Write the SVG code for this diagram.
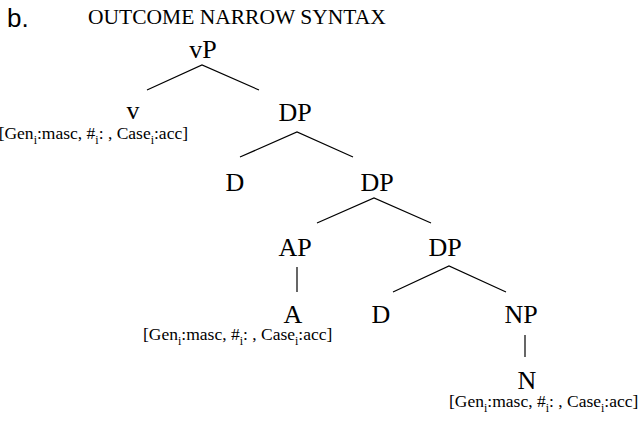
<svg xmlns="http://www.w3.org/2000/svg" width="640" height="421" viewBox="0 0 640 421">
<style>
.lbl{font-family:"Liberation Serif","Times New Roman",serif;font-size:26px;fill:#000;text-anchor:middle}
.ft{font-family:"Liberation Serif","Times New Roman",serif;font-size:17.5px;fill:#000}
.sub{font-size:12px}
.ttl{font-family:"Liberation Serif","Times New Roman",serif;font-size:21.5px;fill:#000}
.edge{stroke:#000;stroke-width:1.2;fill:none}
</style>
<rect width="640" height="421" fill="#fff"/>
<text x="7" y="27" font-family="Liberation Sans, Arial, sans-serif" font-size="26">b.</text>
<text class="ttl" x="88" y="24">OUTCOME NARROW SYNTAX</text>
<g id="connectors">
<path class="edge" d="M147 90 L202 65 L259 90"/>
<path class="edge" d="M240 157 L297 132 L353 157"/>
<path class="edge" d="M317 223 L374 198 L431 223"/>
<path class="edge" d="M297 267 L297 292"/>
<path class="edge" d="M393 292 L449 266 L506 292"/>
<path class="edge" d="M525 335 L525 357"/>
</g>
<g id="vP"><text class="lbl" x="203" y="58">vP</text></g>
<g id="v"><text class="lbl" x="133" y="119">v</text>
<text class="ft" x="188" y="139" text-anchor="end">[Gen<tspan class="sub" dy="5">i</tspan><tspan dy="-5">:masc, #</tspan><tspan class="sub" dy="5">i</tspan><tspan dy="-5">: , Case</tspan><tspan class="sub" dy="5">i</tspan><tspan dy="-5">:acc]</tspan></text></g>
<g id="DP1"><text class="lbl" x="295" y="121">DP</text></g>
<g id="D1"><text class="lbl" x="235" y="191">D</text></g>
<g id="DP2"><text class="lbl" x="377" y="191">DP</text></g>
<g id="AP"><text class="lbl" x="295" y="256">AP</text></g>
<g id="DP3"><text class="lbl" x="445" y="256">DP</text></g>
<g id="A"><text class="lbl" x="293" y="323">A</text>
<text class="ft" x="143" y="340">[Gen<tspan class="sub" dy="5">i</tspan><tspan dy="-5">:masc, #</tspan><tspan class="sub" dy="5">i</tspan><tspan dy="-5">: , Case</tspan><tspan class="sub" dy="5">i</tspan><tspan dy="-5">:acc]</tspan></text></g>
<g id="D2"><text class="lbl" x="381" y="323">D</text></g>
<g id="NP"><text class="lbl" x="521" y="323">NP</text></g>
<g id="N"><text class="lbl" x="527" y="389">N</text>
<text class="ft" x="449" y="407">[Gen<tspan class="sub" dy="5">i</tspan><tspan dy="-5">:masc, #</tspan><tspan class="sub" dy="5">i</tspan><tspan dy="-5">: , Case</tspan><tspan class="sub" dy="5">i</tspan><tspan dy="-5">:acc]</tspan></text></g>
</svg>
